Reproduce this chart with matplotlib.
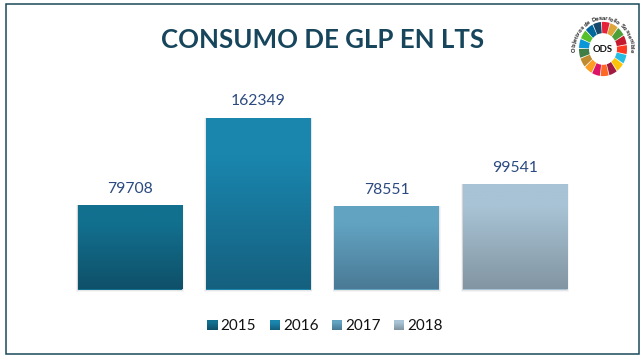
import numpy as np
import matplotlib
matplotlib.use("Agg")
import matplotlib.pyplot as plt
from matplotlib.colors import LinearSegmentedColormap
from matplotlib.patches import Rectangle, Wedge
from matplotlib.legend_handler import HandlerBase
from matplotlib.textpath import TextPath
from matplotlib.font_manager import FontProperties
from matplotlib.transforms import Affine2D

years = ["2015", "2016", "2017", "2018"]
values = [79708, 162349, 78551, 99541]
top_colors = ["#12708F", "#1A86AE", "#62A3C2", "#A8C3D5"]
bottom_colors = ["#0F5069", "#15607F", "#4A7A95", "#8295A2"]
title = "CONSUMO DE GLP EN LTS"
frame_color = "#1B4A58"
label_color = "#2B4A80"
title_color = "#17465C"
sdg_colors = ["#E5243B", "#DDA63A", "#4C9F38", "#C5192D", "#FF3A21", "#26BDE2", "#FCC30B", "#A21942",
              "#FD6925", "#DD1367", "#FD9D24", "#BF8B2E", "#3F7E44", "#0A97D9", "#56C02B", "#00689D", "#19486A"]
logo_text = "Objetivos de Desarrollo Sostenible"

W, H = 643, 358
plt.rcParams["font.family"] = ["Lato", "DejaVu Sans"]
fig = plt.figure(figsize=(W / 100, H / 100), dpi=100, facecolor="white")


def px_axes(x0, y0, x1, y1, **kw):
    return fig.add_axes([x0 / W, 1 - y1 / H, (x1 - x0) / W, (y1 - y0) / H], **kw)


def grad(ct, cb):
    return LinearSegmentedColormap.from_list("g", [(0, cb), (0.78, ct), (1, ct)])


# frame
fig.add_artist(Rectangle((5.5 / W, 1 - 353.5 / H), 633 / W, 350 / H, transform=fig.transFigure,
                         fill=False, edgecolor=frame_color, linewidth=1.1))

ax = px_axes(66, 98.8, 579, 289.5)
ax.set_xlim(-0.5, 3.5)
ax.set_ylim(0, 180000)
ax.axis("off")

for i, (v, ct, cb) in enumerate(zip(values, top_colors, bottom_colors)):
    cmap = grad(ct, cb)
    for k, a in ((2600, 0.04), (1500, 0.06), (600, 0.08)):
        ax.add_patch(Rectangle((i - 0.4075 - k / 180000 * 0.9, -k), 0.815 + 2 * k / 180000 * 0.9, v + k,
                               facecolor="black", alpha=a, linewidth=0, clip_on=False, zorder=1))
    bar = ax.bar(i, v, width=0.815, color=ct, linewidth=0, zorder=2)[0]
    im = ax.imshow(np.linspace(1, 0, 128).reshape(-1, 1), cmap=cmap, aspect="auto", zorder=3,
                   extent=(i - 0.4075, i + 0.4075, 0, v))
    im.set_clip_path(bar)
    ax.annotate(str(v), (i, v), xytext=(0, 6.5), textcoords="offset points", ha="center", va="bottom",
                fontsize=11.3, color=label_color, zorder=4)
ax.set_xlim(-0.5, 3.5)
ax.set_ylim(0, 180000)


class GradHandler(HandlerBase):
    def __init__(self, ct, cb):
        super().__init__()
        self.cmap = grad(ct, cb)

    def create_artists(self, legend, orig, xd, yd, width, height, fontsize, trans):
        n = 10
        size = 7.4
        return [Rectangle((-xd + width - size, -yd + (height - size) / 2 + size * j / n), size, size / n + 0.05,
                          facecolor=self.cmap(j / (n - 1)), linewidth=0, transform=trans) for j in range(n)]


handles = [Rectangle((0, 0), 1, 1) for _ in years]
fig.legend(handles, years, ncol=4, loc="center", bbox_to_anchor=(325 / W, 1 - 326.5 / H), frameon=False,
           fontsize=11, labelcolor="#111111", handlelength=0.7, handletextpad=0.2, columnspacing=0.85,
           handler_map={h: GradHandler(ct, cb) for h, ct, cb in zip(handles, top_colors, bottom_colors)})

fig.text(323 / W, 1 - 39.5 / H, title, ha="center", va="center", fontsize=18.6, fontweight="bold", color=title_color)

# logo: the wheel of goals
lg = px_axes(570, 14, 636, 84)
lg.set_xlim(-33, 33)
lg.set_ylim(-35, 35)
lg.axis("off")
squash = Affine2D().scale(1, 1.13) + lg.transData
step = 360 / 17
for j, c in enumerate(sdg_colors):
    a0 = 90 - (j + 1) * step + 1 + 4
    lg.add_patch(Wedge((0, 0), 24, a0, a0 + step - 2, width=10, facecolor=c, linewidth=0, transform=squash))
lg.text(0, 0, "ODS", ha="center", va="center", fontsize=6.8, fontweight="bold", color="#111111")

fp = FontProperties(family="Liberation Sans", weight="bold", size=4.2)
widths = [TextPath((0, 0), "n" + ch + "n", prop=fp).get_extents().width
          - TextPath((0, 0), "nn", prop=fp).get_extents().width for ch in logo_text]
edges = np.concatenate([[0], np.cumsum(widths)])
mids = (edges[:-1] + edges[1:]) / 2 / edges[-1]
for ch, m in zip(logo_text, mids):
    ang = np.deg2rad(186 - m * 192)
    lg.text(28.5 * np.cos(ang), 30.5 * np.sin(ang), ch, rotation=np.rad2deg(ang) - 90, rotation_mode="anchor",
            ha="center", va="center", fontproperties=fp, color="#222222")

fig.savefig("out.png", dpi=100, facecolor="white")
